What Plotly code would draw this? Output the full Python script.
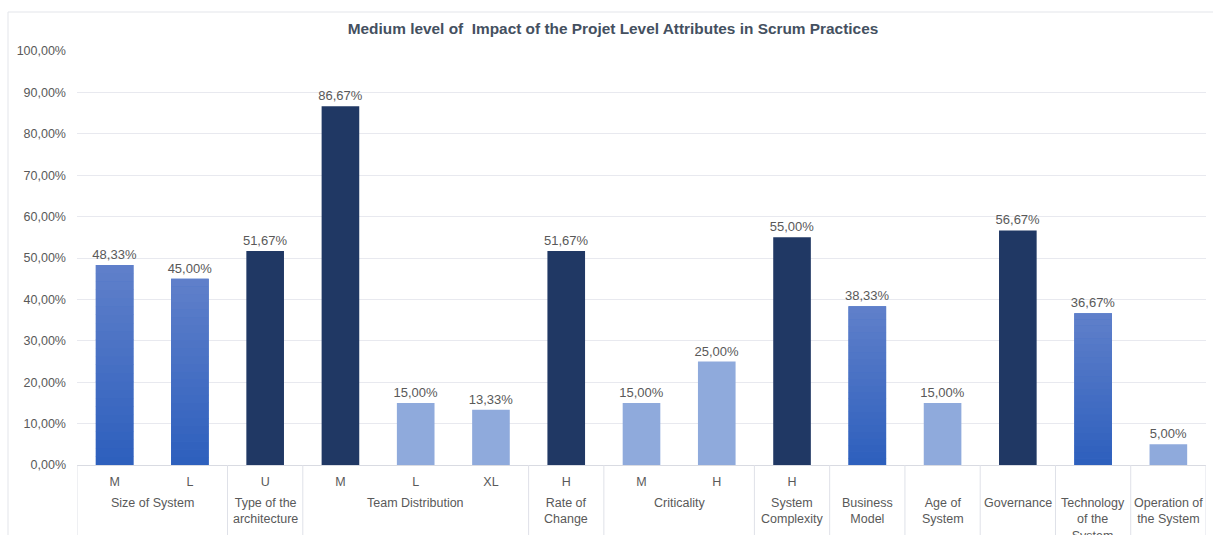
import plotly.graph_objects as go

# Impact share per attribute level (percent)
levels = ["M", "L", "U", "M", "L", "XL", "H", "M", "H", "H", "", "", "", "", ""]
values = [48.33, 45.00, 51.67, 86.67, 15.00, 13.33, 51.67, 15.00, 25.00, 55.00,
          38.33, 15.00, 56.67, 36.67, 5.00]
# style of each bar: "g" = gradient blue, "d" = dark navy, "l" = light blue
styles = ["g", "g", "d", "d", "l", "l", "d", "l", "l", "d", "g", "l", "d", "g", "l"]
groups = ["Size of System", "Type of the<br>architecture", "Team Distribution",
          "Rate of<br>Change", "Criticality", "System<br>Complexity",
          "Business<br>Model", "Age of<br>System", "Governance",
          "Technology<br>of the<br>System", "Operation of<br>the System"]
group_sizes = [2, 1, 3, 1, 2, 1, 1, 1, 1, 1, 1]

DARK = "#203864"
LIGHT = "#8faadc"
GRAD_TOP = (96, 128, 202)
GRAD_BOT = (45, 95, 189)
MID = "#4270c6"
TXT = "#595959"

x = list(range(len(values)))
base_colors = {"g": MID, "d": DARK, "l": LIGHT}

fig = go.Figure()
fig.add_trace(go.Bar(
    x=x, y=values,
    marker=dict(color=[base_colors[s] for s in styles], line=dict(width=0)),
    texttemplate="%{y:.2f}%", textposition="outside", constraintext="none",
    textfont=dict(size=13, color=TXT), cliponaxis=False,
    hoverinfo="skip", showlegend=False,
))

# vertical gradient for the medium-blue bars, built as thin slices of each bar
N = 24
gx = [i for i, s in enumerate(styles) if s == "g"]
gv = [values[i] for i in gx]
for k in range(N):
    t = (k + 0.5) / N
    c = tuple(round(GRAD_BOT[j] + (GRAD_TOP[j] - GRAD_BOT[j]) * t) for j in range(3))
    fig.add_trace(go.Bar(
        x=gx, y=[v / N * 1.04 if k < N - 1 else v / N for v in gv],
        base=[v * k / N for v in gv],
        marker=dict(color="rgb(%d,%d,%d)" % c, line=dict(width=0)),
        hoverinfo="skip", showlegend=False,
    ))

L, R, T, B = 77, 7, 51, 70
W, H = 1213, 535
ph = H - T - B

def py(px_y):
    # pixel row -> paper y
    return (H - B - px_y) / ph

shapes = []
annotations = []
# group dividers below the axis and group captions
pos = 0
bounds = [-0.5]
for g, n in zip(groups, group_sizes):
    annotations.append(dict(
        x=pos + (n - 1) / 2, y=py(494), xref="x", yref="paper",
        text=g, showarrow=False, yanchor="top", xanchor="center",
        font=dict(size=12.5, color=TXT), align="center",
    ))
    pos += n
    bounds.append(pos - 0.5)
for b in bounds:
    shapes.append(dict(type="line", xref="x", yref="paper", x0=b, x1=b,
                       y0=0, y1=py(545), line=dict(color="#dfe1e8", width=1)))

# chart frame
shapes.append(dict(type="rect", xref="paper", yref="paper",
                   x0=(8 - L) / (W - L - R), x1=(1225 - L) / (W - L - R),
                   y0=py(560), y1=py(12), line=dict(color="#e3e5ea", width=1),
                   layer="below"))

fig.update_layout(
    width=W, height=H,
    margin=dict(l=L, r=R, t=T, b=B),
    paper_bgcolor="white", plot_bgcolor="white",
    barmode="overlay", bargap=0.5,
    separators=", ",
    font=dict(family="Liberation Sans, Arial, sans-serif", size=12, color=TXT),
    title=dict(
        text="<b>Medium level of  Impact of the Projet Level Attributes in Scrum Practices</b>",
        x=(613 - L) / (W - L - R), xref="paper", xanchor="center",
        y=1 - 29 / H, yref="container", yanchor="middle",
        font=dict(size=15.4, color="#44505f"),
    ),
    xaxis=dict(
        tickmode="array", tickvals=x, ticktext=levels,
        range=[-0.5, len(values) - 0.5],
        showgrid=False, zeroline=False, showline=True,
        linecolor="#d9dbe2", linewidth=1, ticks="",
        ticklabelstandoff=5,
        tickfont=dict(size=12.5, color=TXT),
    ),
    yaxis=dict(
        range=[0, 100], dtick=10, tickformat=".2f", ticksuffix="%",
        showgrid=True, gridcolor="#e8e9ef", gridwidth=1,
        zeroline=False, showline=False, ticks="",
        ticklabelstandoff=10,
        tickfont=dict(size=12.5, color=TXT),
    ),
    shapes=shapes,
    annotations=annotations,
)

fig.write_html("out.html")
